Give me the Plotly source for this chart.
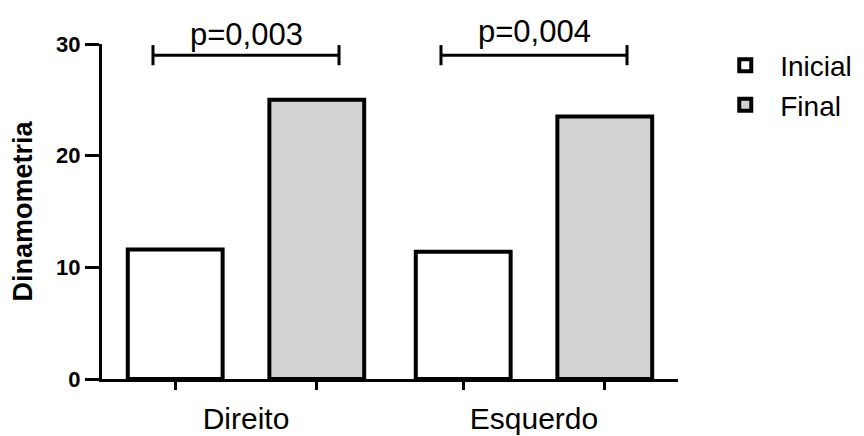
import plotly.graph_objects as go

# ---- data ----
categories = ["Direito", "Esquerdo"]
inicial = [11.6, 11.4]
final = [25.0, 23.5]
p_values = ["p=0,003", "p=0,004"]
y_ticks = [0, 10, 20, 30]

# ---- layout constants ----
FONT = "Arial, Liberation Sans, Helvetica, sans-serif"
BARGAP = 0.017
BARGROUPGAP = 0.33
BRACKET_Y = 29.0
BRACKET_CAP = 0.9
BRACKET_HALF = 0.323

fig = go.Figure()

fig.add_trace(go.Bar(
    name="Inicial", x=categories, y=inicial,
    marker=dict(color="white", line=dict(color="black", width=4)),
))
fig.add_trace(go.Bar(
    name="Final", x=categories, y=final,
    marker=dict(color="#d3d3d3", line=dict(color="black", width=4)),
))

# significance brackets on an overlaid linear axis (same range as the category axis)
for i, p in enumerate(p_values):
    x0, x1 = i - BRACKET_HALF, i + BRACKET_HALF
    fig.add_trace(go.Scatter(
        x=[x0, x0, None, x0, x1, None, x1, x1],
        y=[BRACKET_Y - BRACKET_CAP, BRACKET_Y + BRACKET_CAP, None,
           BRACKET_Y, BRACKET_Y, None,
           BRACKET_Y - BRACKET_CAP, BRACKET_Y + BRACKET_CAP],
        mode="lines", line=dict(color="black", width=3),
        xaxis="x2", yaxis="y", showlegend=False, hoverinfo="skip",
        cliponaxis=False,
    ))
    fig.add_annotation(
        x=i, y=BRACKET_Y, xref="x2", yref="y", text=p, showarrow=False,
        yanchor="bottom", yshift=1 + 3 * i,
        font=dict(family=FONT, size=31, color="black"),
    )

# bar-centre tick positions
off = (1 - BARGAP) / 4
bar_centres = [i + d for i in range(len(categories)) for d in (-off, off)]

fig.update_layout(
    width=856, height=428,
    margin=dict(l=94, r=186, t=36, b=57, autoexpand=False),
    paper_bgcolor="white", plot_bgcolor="white",
    barmode="group", bargap=BARGAP, bargroupgap=BARGROUPGAP,
    font=dict(family=FONT, color="black"),
    xaxis=dict(
        type="category", range=[-0.5, 1.5], automargin=False,
        showline=True, linecolor="black", linewidth=3,
        ticks="", showgrid=False, zeroline=False,
        tickfont=dict(family=FONT, size=30, color="black"),
        ticklabelstandoff=11,
    ),
    xaxis2=dict(
        overlaying="x", anchor="y", side="bottom", type="linear",
        range=[-0.5, 1.5], tickvals=bar_centres, showticklabels=False,
        ticks="outside", ticklen=10, tickwidth=3, tickcolor="black",
        showline=False, showgrid=False, zeroline=False, automargin=False,
    ),
    yaxis=dict(
        range=[0, 30], tickvals=y_ticks, automargin=False,
        showline=True, linecolor="black", linewidth=3,
        ticks="outside", ticklen=14, tickwidth=3, tickcolor="black",
        showgrid=False, zeroline=False,
        tickfont=dict(family=FONT, size=22, color="black", weight="bold"),
        title=dict(text="Dinamometria", standoff=18,
                   font=dict(family=FONT, size=27, color="black", weight="bold")),
    ),
    legend=dict(
        x=1.056, y=1.01, xanchor="left", yanchor="top",
        font=dict(family=FONT, size=28, color="black"),
        itemwidth=60, bgcolor="rgba(0,0,0,0)",
    ),
)

fig.write_html("out.html")
